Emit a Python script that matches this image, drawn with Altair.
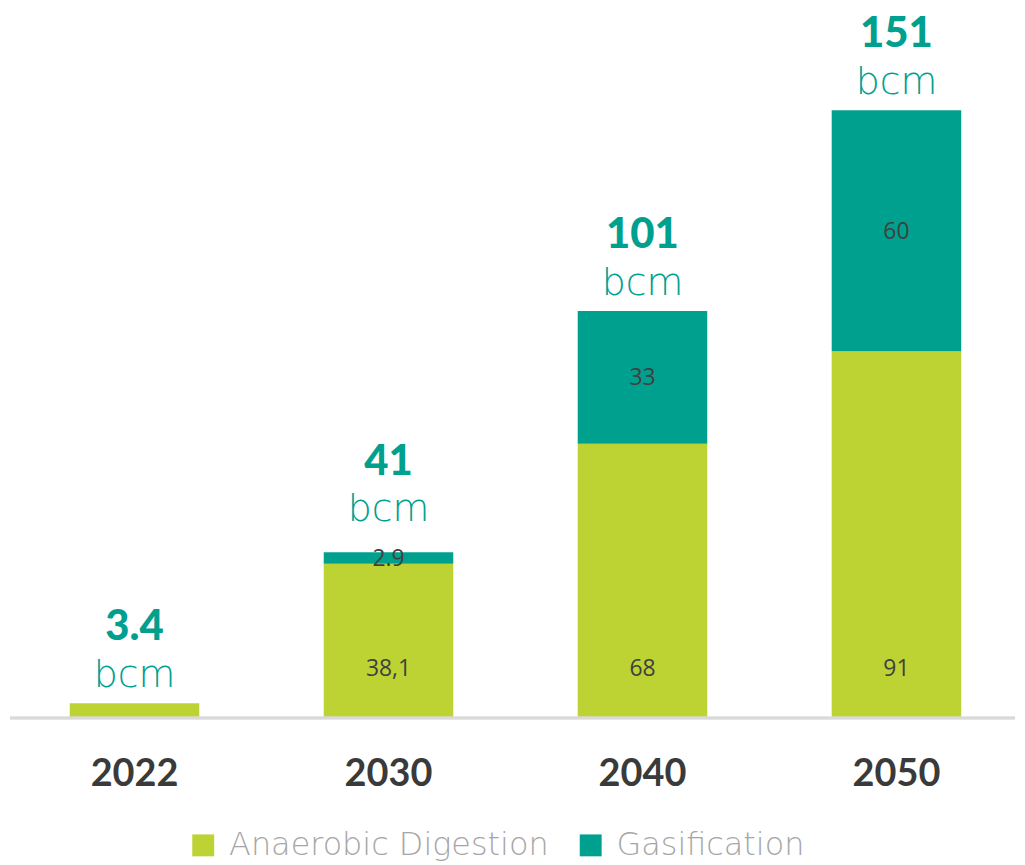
import altair as alt
import pandas as pd

years = ["2022", "2030", "2040", "2050"]
ad_values = [3.4, 38.1, 68, 91]
gas_values = [0, 2.9, 33, 60]
ad_labels = ["", "38,1", "68", "91"]
gas_labels = ["", "2.9", "33", "60"]
total_values = [3.4, 41, 101, 151]
total_labels = ["3.4", "41", "101", "151"]
series = ["Anaerobic Digestion", "Gasification"]
colors = ["#BDD334", "#00A08F"]

rows = []
for i, y in enumerate(years):
    rows.append({"year": y, "series": series[0], "value": ad_values[i], "label": ad_labels[i], "order": 0})
    rows.append({"year": y, "series": series[1], "value": gas_values[i], "label": gas_labels[i], "order": 1})
df = pd.DataFrame(rows)
tot = pd.DataFrame({"year": years, "total": total_values, "tlabel": total_labels, "gas": gas_values})

W, H = 1009, 710
ymax = 176

xscale = alt.Scale(domain=years, range=[60, 955], paddingInner=0.49, paddingOuter=0)
xenc = alt.X("year:N", sort=years, scale=xscale,
             axis=alt.Axis(title=None, domain=False, ticks=False, labelAngle=0,
                           labelFontSize=38, labelFontWeight="bold", labelFont="Lato",
                           labelColor="#3A3A3A", labelPadding=39))
yscale = alt.Scale(domain=[0, ymax], nice=False, zero=True)

bars = alt.Chart(df).mark_bar().encode(
    x=xenc,
    y=alt.Y("value:Q", stack="zero", scale=yscale, axis=None),
    color=alt.Color("series:N", sort=series,
                    scale=alt.Scale(domain=series, range=colors),
                    legend=alt.Legend(title=None, orient="none", legendX=178, legendY=823,
                                      direction="horizontal", symbolType="square",
                                      symbolSize=484, symbolStrokeWidth=0,
                                      labelFontSize=32, labelFont="DejaVu Sans",
                                      labelFontWeight=300, labelLimit=0,
                                      labelColor="#A6A6A6", columnPadding=26,
                                      labelOffset=10, symbolOpacity=1)),
    order=alt.Order("order:Q"),
)

base_rule = alt.Chart(tot).mark_rule(color="#D9D9D9", strokeWidth=2.5).encode(
    x=alt.value(0), x2=alt.value(W), y=alt.value(H + 1)
)

ad_df = df[df["order"] == 0]

ad_text = alt.Chart(ad_df).mark_text(fontSize=23, font="Open Sans", color="#404040",
                                     baseline="middle").encode(
    x=alt.X("year:N", sort=years, scale=xscale),
    y=alt.value(H - 48),
    text="label:N",
)

gas_text = alt.Chart(df).transform_stack(
    stack="value", groupby=["year"], sort=[alt.SortField("order")], as_=["v0", "v1"]
).transform_filter("datum.order == 1").transform_calculate(
    mid="(datum.v0 + datum.v1) / 2"
).mark_text(fontSize=23, font="Open Sans", color="#404040", baseline="middle", dy=1).encode(
    x=alt.X("year:N", sort=years, scale=xscale),
    y=alt.Y("mid:Q", scale=yscale),
    text="label:N",
)

# lift the total label when a thin top segment carries its own label
tot_base = alt.Chart(tot).transform_calculate(
    anchor="datum.total + ((datum.gas > 0 && datum.gas < 5) ? 3.7 : 0)"
)

tot_num = tot_base.mark_text(fontSize=42, font="Lato", fontWeight=900, color="#00A08F",
                             baseline="alphabetic", dy=-63).encode(
    x=alt.X("year:N", sort=years, scale=xscale),
    y=alt.Y("anchor:Q", scale=yscale),
    text="tlabel:N",
)

tot_bcm = tot_base.mark_text(fontSize=38, font="DejaVu Sans", fontWeight=300,
                             color="#00A08F", baseline="alphabetic", dy=-16).encode(
    x=alt.X("year:N", sort=years, scale=xscale),
    y=alt.Y("anchor:Q", scale=yscale),
    text=alt.value("bcm"),
)

chart = alt.layer(bars, base_rule, ad_text, gas_text, tot_num, tot_bcm).properties(
    width=W, height=H, padding=0, background="white"
).configure_view(strokeWidth=0)

chart.save("out.html", embed_options={"renderer": "svg", "actions": False})
